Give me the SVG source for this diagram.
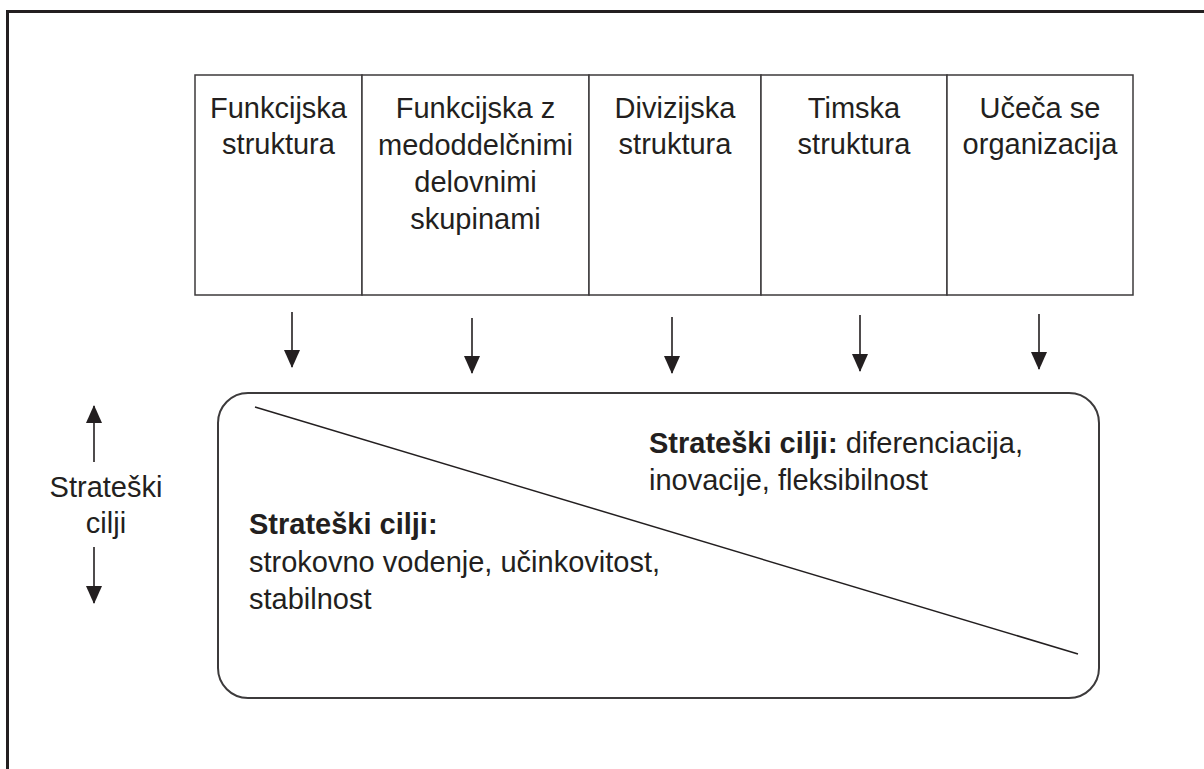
<svg xmlns="http://www.w3.org/2000/svg" width="1204" height="769" viewBox="0 0 1204 769">
  <style>
    .lbl { font-family: "Liberation Sans", Arial, sans-serif; font-size: 29px; fill: #231f20; }
    .mid { text-anchor: middle; }
    .b { font-weight: bold; }
    .cell { fill: #ffffff; stroke: #3c3a3b; stroke-width: 1.5; }
    .conn { stroke: #231f20; stroke-width: 1.6; fill: none; }
  </style>
  <defs>
    <!-- filled triangular arrowhead, pointing along the line -->
    <marker id="head" viewBox="0 0 18 16" refX="17" refY="8" markerWidth="18" markerHeight="16" markerUnits="userSpaceOnUse" orient="auto">
      <path d="M0 0 L18 8 L0 16 Z" fill="#231f20"/>
    </marker>
  </defs>

  <rect width="1204" height="769" fill="#ffffff"/>

  <!-- outer frame -->
  <path d="M7.5 769 V11.5 H1204" fill="none" stroke="#231f20" stroke-width="3"/>

  <!-- structure types -->
  <g id="funkcijska">
    <rect class="cell" x="195" y="75" width="167" height="220"/>
    <text class="lbl mid" x="278.5" y="118">Funkcijska</text>
    <text class="lbl mid" x="278.5" y="154">struktura</text>
  </g>
  <g id="funkcijska-skupine">
    <rect class="cell" x="362" y="75" width="227" height="220"/>
    <text class="lbl mid" x="475.5" y="118">Funkcijska z</text>
    <text class="lbl mid" x="475.5" y="155">medoddelčnimi</text>
    <text class="lbl mid" x="475.5" y="192">delovnimi</text>
    <text class="lbl mid" x="475.5" y="229">skupinami</text>
  </g>
  <g id="divizijska">
    <rect class="cell" x="589" y="75" width="172" height="220"/>
    <text class="lbl mid" x="675" y="118">Divizijska</text>
    <text class="lbl mid" x="675" y="154">struktura</text>
  </g>
  <g id="timska">
    <rect class="cell" x="761" y="75" width="186" height="220"/>
    <text class="lbl mid" x="854" y="118">Timska</text>
    <text class="lbl mid" x="854" y="154">struktura</text>
  </g>
  <g id="uceca">
    <rect class="cell" x="947" y="75" width="186" height="220"/>
    <text class="lbl mid" x="1040" y="118">Učeča se</text>
    <text class="lbl mid" x="1040" y="154">organizacija</text>
  </g>

  <!-- goals panel -->
  <g id="cilji">
    <rect x="218" y="393" width="881" height="305" rx="30" ry="30" fill="#ffffff" stroke="#3c3a3b" stroke-width="2"/>
    <line x1="255" y1="407" x2="1078" y2="654" stroke="#231f20" stroke-width="1.5"/>
    <text class="lbl" x="649" y="453"><tspan class="b">Strateški cilji:</tspan> diferenciacija,</text>
    <text class="lbl" x="649" y="490">inovacije, fleksibilnost</text>
    <text class="lbl b" x="249" y="534">Strateški cilji:</text>
    <text class="lbl" x="249" y="572">strokovno vodenje, učinkovitost,</text>
    <text class="lbl" x="249" y="609">stabilnost</text>
  </g>

  <!-- axis label -->
  <g id="os">
    <text class="lbl mid" x="106" y="497">Strateški</text>
    <text class="lbl mid" x="106" y="533">cilji</text>
  </g>

  <!-- connectors -->
  <g id="connectors">
    <line class="conn" x1="292" y1="312" x2="292" y2="367" marker-end="url(#head)"/>
    <line class="conn" x1="472" y1="318" x2="472" y2="373" marker-end="url(#head)"/>
    <line class="conn" x1="672" y1="317" x2="672" y2="373" marker-end="url(#head)"/>
    <line class="conn" x1="860" y1="315" x2="860" y2="371" marker-end="url(#head)"/>
    <line class="conn" x1="1039" y1="314" x2="1039" y2="369" marker-end="url(#head)"/>
    <line class="conn" x1="94" y1="462" x2="94" y2="406" marker-end="url(#head)"/>
    <line class="conn" x1="94" y1="547" x2="94" y2="603" marker-end="url(#head)"/>
  </g>
</svg>
